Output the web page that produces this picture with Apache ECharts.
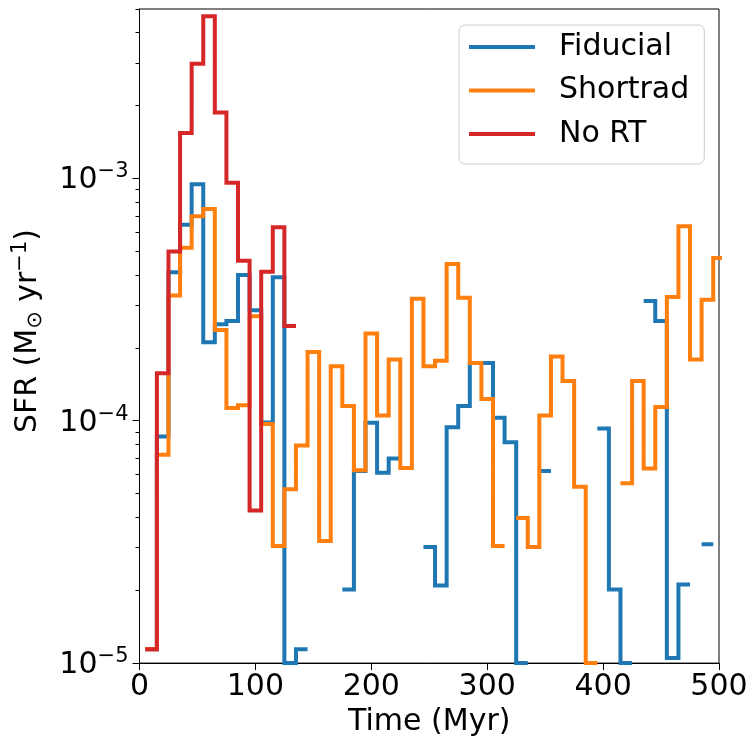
<!DOCTYPE html>
<html>
<head>
<meta charset="utf-8">
<script src="https://cdn.jsdelivr.net/npm/echarts@6/dist/echarts.min.js"></script>
<style>
html,body{margin:0;padding:0;background:#fff;}
#chart{width:752px;height:742px;}
</style>
</head>
<body>
<div id="chart"></div>
<script>
// Bin edges (Myr) of the star-formation histogram
const binEdges = [5,15,25,35,45,55,65,75,85,95,105,115,125,135,145,155,165,175,185,195,
  205,215,225,235,245,255,265,275,285,295,305,315,325,335,345,355,365,375,385,395,
  405,415,425,435,445,455,465,475,485,495,505];

// SFR per bin (Msun/yr); null = no star formation (not drawn on log axis)
const fiducial = [1.14e-5,8.6e-5,4.1e-4,6.44e-4,9.46e-4,2.11e-4,2.5e-4,2.58e-4,3.99e-4,2.86e-4,
  9.84e-5,3.91e-4,1.0e-5,1.14e-5,null,null,null,2.01e-5,6.2e-5,9.8e-5,
  6.1e-5,6.98e-5,null,null,3.01e-5,2.09e-5,9.4e-5,1.15e-4,1.73e-4,1.73e-4,
  1.03e-4,8.15e-5,1.0e-5,null,6.21e-5,null,null,null,null,9.3e-5,
  2.01e-5,1.0e-5,null,3.12e-4,2.58e-4,1.05e-5,2.11e-5,null,3.09e-5,null];

const shortrad = [1.14e-5,7.24e-5,3.29e-4,5.18e-4,6.98e-4,7.47e-4,2.37e-4,1.13e-4,1.16e-4,2.7e-4,
  9.7e-5,3.04e-5,5.21e-5,7.9e-5,1.92e-4,3.19e-5,1.68e-4,1.15e-4,6.25e-5,2.29e-4,
  1.05e-4,1.79e-4,6.39e-5,3.19e-4,1.68e-4,1.77e-4,4.43e-4,3.22e-4,1.73e-4,1.23e-4,
  3.04e-5,null,3.97e-5,3.01e-5,1.05e-4,1.84e-4,1.46e-4,5.34e-5,1.0e-5,null,
  null,5.52e-5,1.46e-4,6.35e-5,1.14e-4,3.24e-4,6.35e-4,1.79e-4,3.16e-4,4.69e-4];

const noRT = [1.14e-5,1.57e-4,4.99e-4,1.54e-3,2.97e-3,4.67e-3,1.87e-3,9.6e-4,4.57e-4,4.26e-5,
  4.12e-4,6.29e-4,2.46e-4];

const seriesNames = ['Fiducial','Shortrad','No RT'];
const seriesColors = ['#1f77b4','#ff7f0e','#d62728'];

const xTicks = [0,100,200,300,400,500];
const yMajorTicks = [1e-5,1e-4,1e-3];
const yMinorTicks = [2e-5,3e-5,4e-5,5e-5,6e-5,7e-5,8e-5,9e-5,
  2e-4,3e-4,4e-4,5e-4,6e-4,7e-4,8e-4,9e-4,
  2e-3,3e-3,4e-3,5e-3];

// Build a post-style step path from bins (gaps where value is null)
function stepPath(vals){
  const out = [];
  for(let i=0;i<vals.length;i++){
    const v = vals[i];
    if(v===null){ out.push([binEdges[i], null]); continue; }
    out.push([binEdges[i], v]);
    out.push([binEdges[i+1], v]);
  }
  return out;
}

const FONT = 'DejaVu Sans';
const chart = echarts.init(document.getElementById('chart'), null, {renderer:'canvas'});

const allVals = [fiducial, shortrad, noRT];
const series = allVals.map((vals,k)=>({
  name: seriesNames[k],
  type: 'line',
  data: stepPath(vals),
  yAxisIndex: 0,
  symbol: 'none',
  showSymbol: false,
  connectNulls: false,
  lineStyle: {color: seriesColors[k], width: 4, join: 'miter', cap: 'butt'},
  itemStyle: {color: seriesColors[k]},
  color: seriesColors[k],
  z: 2 + k,
  clip: true
}));

const option = {
  animation: false,
  backgroundColor: '#ffffff',
  grid: {left: 139.5, right: 33, top: 9, bottom: 72, show: true, borderColor: '#000', borderWidth: 1, backgroundColor: 'transparent'},
  legend: {
    data: seriesNames,
    orient: 'vertical',
    left: 459,
    top: 25,
    padding: [7, 15, 15, 10],
    itemGap: 13.5,
    itemWidth: 66,
    itemHeight: 4,
    icon: 'rect',
    borderColor: '#cccccc',
    borderWidth: 1,
    borderRadius: 6,
    backgroundColor: 'rgba(255,255,255,0.8)',
    textStyle: {fontFamily: FONT, fontSize: 30, color: '#000', padding: [0,0,0,19], lineHeight: 30},
    z: 10
  },
  xAxis: {
    type: 'value',
    min: 0, max: 500, interval: 100,
    name: 'Time (Myr)',
    nameLocation: 'middle',
    nameGap: 34,
    nameTextStyle: {fontFamily: FONT, fontSize: 30, color: '#000', verticalAlign: 'top'},
    axisLine: {show: true, onZero: false, lineStyle: {color: '#000', width: 1}},
    axisTick: {show: true, inside: false, length: 7, lineStyle: {color: '#000', width: 1}, customValues: xTicks},
    axisLabel: {fontFamily: FONT, fontSize: 30, color: '#000', margin: 9, customValues: xTicks},
    splitLine: {show: false}
  },
  yAxis: [{
    type: 'log',
    logBase: 10,
    min: 1e-5, max: 5e-3,
    name: '{b|SFR (M}{sub|⊙}{b| yr}{sup|−1}{b|)}',
    nameLocation: 'middle',
    nameRotate: 90,
    nameGap: 78,
    nameTextStyle: {
      fontFamily: FONT, fontSize: 30, color: '#000', padding: [0, 0, 0, 10],
      rich: {
        b: {fontFamily: FONT, fontSize: 30, color: '#000', lineHeight: 40, verticalAlign: 'middle'},
        sub: {fontFamily: FONT, fontSize: 21, color: '#000', lineHeight: 40, verticalAlign: 'bottom', padding:[0,0,2,0]},
        sup: {fontFamily: FONT, fontSize: 21, color: '#000', lineHeight: 40, verticalAlign: 'top', padding:[2,0,0,0]}
      }
    },
    axisLine: {show: true, onZero: false, lineStyle: {color: '#000', width: 1}},
    axisTick: {show: true, inside: false, length: 7, lineStyle: {color: '#000', width: 1}, customValues: yMajorTicks},
    minorTick: {show: false},
    splitLine: {show: false},
    axisLabel: {
      customValues: yMajorTicks,
      margin: 11,
      formatter: function(v){
        const e = Math.round(Math.log10(v));
        return '{b|10}{s|−' + (-e) + '}';
      },
      rich: {
        b: {fontFamily: FONT, fontSize: 30, color: '#000', lineHeight: 34, verticalAlign: 'bottom'},
        s: {fontFamily: FONT, fontSize: 21, color: '#000', lineHeight: 34, verticalAlign: 'top'}
      }
    }
  },{
    type: 'log',
    logBase: 10,
    min: 1e-5, max: 5e-3,
    position: 'left',
    axisLine: {show: false},
    axisTick: {show: true, inside: false, length: 4, lineStyle: {color: '#000', width: 1}, customValues: yMinorTicks},
    axisLabel: {show: false},
    splitLine: {show: false},
    minorTick: {show: false}
  }],
  series: series
};
chart.setOption(option);
</script>
</body>
</html>
